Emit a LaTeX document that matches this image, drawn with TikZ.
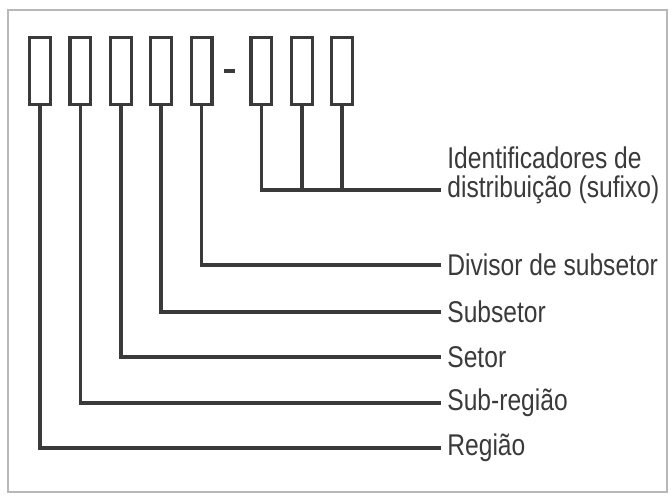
\documentclass[tikz,border=0pt]{standalone}
\usepackage{fontspec}
\newfontfamily\lblfont{Liberation Sans}[FakeStretch=0.82]
\usetikzlibrary{positioning}
\definecolor{ink}{HTML}{3A3A3A}
\begin{document}
\begin{tikzpicture}[x=0.5pt,y=-0.5pt,
  font=\lblfont\fontsize{15}{18}\selectfont, node distance=8.2pt,
  dg/.style={draw=ink,line width=1.6pt,minimum width=10.4pt,minimum height=33.4pt,inner sep=0pt},
  lb/.style={anchor=west,inner xsep=3pt,inner ysep=1pt,text=ink},
  ln/.style={draw=ink,line width=1.8pt}]
\useasboundingbox (0,0) rectangle (671,495);
\draw[black!28,line width=1pt] (8,10) rectangle (667,492);
\node[dg] (d1) at (40,71) {};
\node[dg,right=of d1] (d2) {};
\node[dg,right=of d2] (d3) {};
\node[dg,right=of d3] (d4) {};
\node[dg,right=of d4] (d5) {};
\node[fill=ink,minimum width=5.5pt,minimum height=2pt,inner sep=0pt,right=5pt of d5] (hy) {};
\node[dg,right=7pt of hy] (d6) {};
\node[dg,right=of d6] (d7) {};
\node[dg,right=of d7] (d8) {};
\node[lb] (suf1) at (441,158) {Identificadores de};
\node[lb] (suf) at (441,190) {distribuição (sufixo)};
\node[lb] (div) at (441,265) {Divisor de subsetor};
\node[lb] (sset) at (441,312) {Subsetor};
\node[lb] (set) at (441,357) {Setor};
\node[lb] (sreg) at (441,403) {Sub-região};
\node[lb] (reg) at (441,448) {Região};
\draw[ln] (d1.south) |- (reg.west);
\draw[ln] (d2.south) |- (sreg.west);
\draw[ln] (d3.south) |- (set.west);
\draw[ln] (d4.south) |- (sset.west);
\draw[ln] (d5.south) |- (div.west);
\draw[ln] (d6.south) |- (suf.west);
\draw[ln] (d7.south) -- (d7.south |- suf.west);
\draw[ln] (d8.south) -- (d8.south |- suf.west);
\end{tikzpicture}
\end{document}
